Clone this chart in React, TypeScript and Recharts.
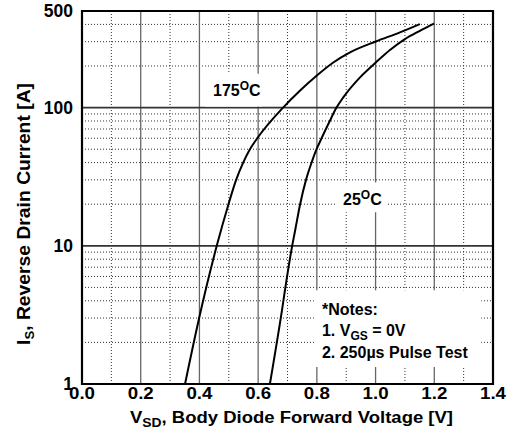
import React from 'react';
import { LineChart, Line, XAxis, YAxis, CartesianGrid, ReferenceArea } from 'recharts';

// Body diode forward voltage (V) vs reverse drain current (A)
const v175 = [0.351, 0.399, 0.459, 0.499, 0.525, 0.549, 0.572, 0.597, 0.685, 0.743, 0.799, 0.856, 0.913, 1.001, 1.083, 1.151];
const i175 = [1, 3, 10, 20, 30, 40, 50, 60, 100, 133, 170, 212, 251, 301, 350, 402];
const v25 = [0.64, 0.681, 0.698, 0.715, 0.726, 0.743, 0.763, 0.782, 0.799, 0.816, 0.844, 0.867, 0.89, 0.947, 1.001, 1.049, 1.1, 1.151, 1.199];
const i25 = [1, 3.4, 5.9, 9.75, 12.9, 20, 30, 40, 50, 60, 80, 100, 118.6, 165.6, 212.3, 261.2, 313.3, 359.7, 406];

const xTicks = [0, 0.2, 0.4, 0.6, 0.8, 1.0, 1.2, 1.4];
const yTicks = [1, 10, 100, 500];
const xMajorGrid = [0.2, 0.4, 0.6, 0.8, 1.0, 1.2];
const xMinorGrid = [0.1, 0.3, 0.5, 0.7, 0.9, 1.1, 1.3];
const yMajorGrid = [10, 100];
const yMinorGrid = [2, 3, 4, 5, 6, 7, 8, 9, 20, 30, 40, 50, 60, 70, 80, 90, 200, 300, 400];

const label175 = '175';
const label25 = '25';
const notes = ['*Notes:', '1. V', 'GS', ' = 0V', '2. 250\u00b5s Pulse Test'];

const data175 = v175.map((v, k) => ({ v, i: i175[k] }));
const data25 = v25.map((v, k) => ({ v, i: i25[k] }));

const FONT = '"Liberation Sans", Arial, sans-serif';

const XTick = (props: any) => {
  const { x, y, payload } = props;
  return (
    <g transform={`translate(${x},${y}) scale(1.1,1)`}>
      <text x={0} y={0} dy="0.71em" textAnchor="middle" fontFamily={FONT} fontWeight="bold" fontSize={17} fill="#000">
        {Number(payload.value).toFixed(1)}
      </text>
    </g>
  );
};

const YTick = (props: any) => {
  const { x, y, payload } = props;
  return (
    <text x={x} y={y} dy="0.355em" textAnchor="end" fontFamily={FONT} fontWeight="bold" fontSize={17.5} fill="#000">
      {payload.value}
    </text>
  );
};

const TempLabel = (text: string) => (props: any) => {
  const vb = props.viewBox || {};
  return (
    <text x={vb.x + 8} y={vb.y + 22} fontFamily={FONT} fontWeight="bold" fontSize={16} fill="#000">
      <tspan>{text}</tspan>
      <tspan dy={-6} fontSize={12}>O</tspan>
      <tspan dy={6}>C</tspan>
    </text>
  );
};

const NotesLabel = (props: any) => {
  const vb = props.viewBox || {};
  const x = vb.x + 8;
  return (
    <g fontFamily={FONT} fontWeight="bold" fontSize={16} fill="#000">
      <text x={x} y={vb.y + 25}>{notes[0]}</text>
      <text x={x} y={vb.y + 46}>
        <tspan>{notes[1]}</tspan>
        <tspan dy={4} fontSize={12}>{notes[2]}</tspan>
        <tspan dy={-4}>{notes[3]}</tspan>
      </text>
      <text x={x} y={vb.y + 68}>{notes[4]}</text>
    </g>
  );
};

const XLabel = (props: any) => {
  const vb = props.viewBox || {};
  const cx = vb.x + vb.width / 2 + 4;
  return (
    <text x={cx} y={423} textAnchor="middle" fontFamily={FONT} fontWeight="bold" fontSize={16} fill="#000" textLength={323} lengthAdjust="spacingAndGlyphs">
      <tspan>V</tspan>
      <tspan dy={4} fontSize={12}>SD</tspan>
      <tspan dy={-4}>, Body Diode Forward Voltage [V]</tspan>
    </text>
  );
};

const YLabel = () => {
  const cx = 30;
  const cy = 214;
  return (
    <text x={cx} y={cy} transform={`rotate(-90, ${cx}, ${cy})`} textAnchor="middle" fontFamily={FONT} fontWeight="bold" fontSize={19} fill="#000" textLength={262} lengthAdjust="spacingAndGlyphs">
      <tspan>I</tspan>
      <tspan dy={4} fontSize={13}>S</tspan>
      <tspan dy={-4}>, Reverse Drain Current [A]</tspan>
    </text>
  );
};

export default function App() {
  return (
    <div style={{ position: 'absolute', left: 0, top: 0, width: 512, height: 441, background: '#fff' }}>
      <LineChart width={512} height={441} margin={{ top: 11, right: 19, left: 0, bottom: 0 }}>
        <XAxis
          dataKey="v"
          type="number"
          domain={[0, 1.4]}
          ticks={xTicks}
          allowDataOverflow
          axisLine={false}
          tickLine={false}
          tickSize={0}
          tickMargin={3}
          height={57}
          tick={<XTick />}
          interval={0}
          label={<XLabel />}
        />
        <YAxis
          dataKey="i"
          type="number"
          scale="log"
          domain={[1, 500]}
          ticks={yTicks}
          allowDataOverflow
          axisLine={false}
          tickLine={false}
          tickSize={0}
          tickMargin={9}
          width={82}
          tick={<YTick />}
          interval={0}
          label={<YLabel />}
        />
        <CartesianGrid
          horizontalValues={yMinorGrid}
          verticalValues={xMinorGrid}
          stroke="#333"
          strokeWidth={1}
          strokeDasharray="1 2"
        />
        <CartesianGrid horizontal={false} verticalValues={xMajorGrid} stroke="#666" strokeWidth={1.3} />
        <CartesianGrid vertical={false} horizontalValues={yMajorGrid} stroke="#333" strokeWidth={1.8} />
        <ReferenceArea x1={0.419} x2={0.613} y1={102} y2={176} fill="#fff" fillOpacity={1} stroke="none" label={TempLabel(label175)} />
        <ReferenceArea x1={0.862} x2={1.042} y1={17.5} y2={28.7} fill="#fff" fillOpacity={1} stroke="none" label={TempLabel(label25)} />
        <ReferenceArea x1={0.79} x2={1.36} y1={1.33} y2={4.77} fill="#fff" fillOpacity={1} stroke="none" label={<NotesLabel />} />
        <Line data={data175} dataKey="i" type="monotone" stroke="#000" strokeWidth={2} dot={false} isAnimationActive={false} />
        <Line data={data25} dataKey="i" type="monotone" stroke="#000" strokeWidth={2} dot={false} isAnimationActive={false} />
        <ReferenceArea x1={0} x2={1.4} y1={1} y2={500} fill="none" stroke="#000" strokeWidth={2.2} />
      </LineChart>
    </div>
  );
}
